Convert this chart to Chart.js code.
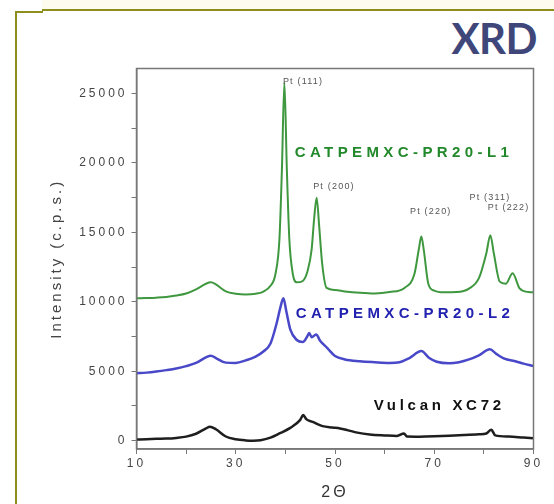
<!DOCTYPE html>
<html><head><meta charset="utf-8">
<script src="https://cdn.jsdelivr.net/npm/chart.js@4.4.1/dist/chart.umd.min.js"></script>
<style>
html,body{margin:0;padding:0;background:#fff;}
#wrap{position:relative;width:554px;height:504px;overflow:hidden;background:#fff;}
#cream{position:absolute;left:42px;top:0;width:512px;height:9px;background:#fdfcef;}
.ol{position:absolute;background:#8e8e1c;}
#title{position:absolute;right:17px;top:14px;font:bold 42px Lato,'Open Sans',sans-serif;color:#3f467a;line-height:48px;letter-spacing:-0.5px;}
canvas{position:absolute;left:0;top:0;}
</style></head>
<body><div id="wrap">
<div id="cream"></div>
<div class="ol" style="left:42px;top:9px;width:512px;height:2px"></div>
<div class="ol" style="left:15px;top:11px;width:28px;height:2px"></div>
<div class="ol" style="left:15px;top:11px;width:2px;height:493px"></div>
<div id="title">XRD</div>
<canvas id="c" width="554" height="504" style="width:554px;height:504px"></canvas>
</div>
<script>
// ---- data (2θ in degrees, intensity in c.p.s.) ----
const l1Theta  = [10,12,14,16,18,20,22,24,25,26,28,30,32,34,35.5,37,38,38.8,39.3,39.8,40.3,40.8,41.5,42.3,43.5,44.5,45.3,45.8,46.3,46.8,47.4,48.3,50,52,55,58,61,64,66,66.9,67.4,67.9,68.8,70,72,74.5,77,79,80.5,81.3,82,83.2,84.4,85.8,87.2,89,90];
const l1Counts = [10250,10270,10300,10350,10450,10600,10900,11300,11400,11250,10750,10580,10530,10580,10720,11150,12000,14500,19500,25800,19500,14500,12000,11400,11500,12250,13800,16000,17500,15500,12800,11000,10850,10750,10650,10600,10700,11000,12000,13800,14700,13700,11300,10800,10680,10700,10950,11700,13500,14800,13500,11450,11300,12050,10960,10700,10680];

const l2Theta  = [10,12,14,16,18,20,22,24,25,26,28,30,32,34,35.5,37,38.2,39,39.6,40.2,41,42.3,43.5,44.4,44.8,45.3,46.2,47,48.5,50,52,55,58,61,63,65,67.4,69,70.5,73,75,77,79,81.2,82.5,84,86.5,88,90];
const l2Counts = [4850,4900,4980,5080,5200,5370,5600,6000,6120,5950,5620,5600,5780,6050,6400,7000,8400,9600,10250,9300,8000,7250,7100,7500,7750,7450,7650,7200,6650,6100,5850,5720,5650,5600,5650,5950,6450,5950,5680,5570,5650,5850,6150,6580,6250,5930,5700,5550,5370];

const xcTheta  = [10,12,14,16,18,20,22,24,24.8,26,28,30,32,33.5,35,37,38.8,41,43,43.6,44.2,45.5,47.5,49.5,51,52.5,54.5,57,60,62.5,63.9,64.5,67,70,73,76,79,80.5,81.5,82.3,85,88,90];
const xcCounts = [80,100,130,150,200,290,500,880,1010,820,300,100,20,0,30,220,520,920,1500,1850,1550,1350,1050,950,880,760,580,450,380,340,520,300,290,310,350,400,460,520,780,380,300,220,170];

const seriesNames  = ['CATPEMXC-PR20-L1','CATPEMXC-PR20-L2','Vulcan XC72'];
const seriesColors = ['#3f983f','#4848c8','#1e1e1e'];
const nameColors   = ['#22892a','#2222b0','#111111'];
const nameTheta    = [63.9, 64.1, 71.0];
const nameCounts   = [20725, 9118, 2533];

const peakLabels      = ['Pt (111)','Pt (200)','Pt (220)','Pt (311)','Pt (222)'];
const peakLabelTheta  = [39.5, 45.6, 65.1, 77.1, 80.8];
const peakLabelCounts = [25830, 18330, 16480, 17510, 16800];

const xTickValues = [10,20,30,40,50,60,70,80,90];
const xTickLabels = [10,30,50,70,90];
const yTickValues = [0,2500,5000,7500,10000,12500,15000,17500,20000,22500,25000];
const yTickLabels = [0,5000,10000,15000,20000,25000];

const FONT = "'Liberation Sans', Arial, sans-serif";
const zip = (xs, ys) => xs.map((x, i) => ({x: x, y: ys[i]}));

const spacingPlugin = {
  id: 'spacing',
  beforeDraw(chart) { chart.ctx.letterSpacing = '3px'; }
};
const framePlugin = {
  id: 'frame',
  afterDatasetsDraw(chart) {
    const {ctx, chartArea: a} = chart;
    ctx.save();
    ctx.strokeStyle = '#777';
    ctx.lineWidth = 1.5;
    ctx.strokeRect(a.left, a.top, a.right - a.left, a.bottom - a.top);
    ctx.restore();
  }
};
const textPlugin = {
  id: 'texts',
  afterDraw(chart) {
    const ctx = chart.ctx, xs = chart.scales.x, ys = chart.scales.y;
    ctx.save();
    ctx.textBaseline = 'middle';
    ctx.textAlign = 'left';
    ctx.font = '9px ' + FONT;
    ctx.fillStyle = '#555';
    ctx.letterSpacing = '1.2px';
    peakLabels.forEach((t, i) => {
      ctx.fillText(t, xs.getPixelForValue(peakLabelTheta[i]), ys.getPixelForValue(peakLabelCounts[i]));
    });
    ctx.textAlign = 'center';
    seriesNames.forEach((t, i) => {
      ctx.font = 'bold 15px ' + FONT;
      ctx.letterSpacing = i === 2 ? '3.7px' : '4.4px';
      ctx.fillStyle = nameColors[i];
      ctx.fillText(t, xs.getPixelForValue(nameTheta[i]), ys.getPixelForValue(nameCounts[i]));
    });
    ctx.restore();
  }
};

new Chart(document.getElementById('c'), {
  type: 'line',
  data: {
    datasets: [
      {label: seriesNames[0], data: zip(l1Theta, l1Counts), borderColor: seriesColors[0], borderWidth: 2},
      {label: seriesNames[1], data: zip(l2Theta, l2Counts), borderColor: seriesColors[1], borderWidth: 2.5},
      {label: seriesNames[2], data: zip(xcTheta, xcCounts), borderColor: seriesColors[2], borderWidth: 2.5}
    ]
  },
  options: {
    responsive: false,
    animation: false,
    devicePixelRatio: 1,
    elements: {
      point: {radius: 0, hoverRadius: 0},
      line: {fill: false, cubicInterpolationMode: 'monotone'}
    },
    layout: {padding: {left: 40, top: 68.5, right: 20.5, bottom: 0}},
    plugins: {legend: {display: false}, tooltip: {enabled: false}},
    scales: {
      x: {
        type: 'linear', position: 'bottom', min: 10, max: 90,
        afterBuildTicks: s => { s.ticks = xTickValues.map(v => ({value: v})); },
        afterFit: s => { s.height = 55; },
        ticks: {
          autoSkip: false, maxRotation: 0, padding: 2, color: '#444',
          font: {family: FONT, size: 12},
          callback: v => xTickLabels.includes(v) ? String(v) : ''
        },
        grid: {drawOnChartArea: false, drawTicks: true, tickLength: 5, tickColor: '#777', tickWidth: 1},
        border: {color: '#777', width: 1.5},
        title: {display: true, text: '2Θ', color: '#333', font: {family: FONT, size: 16}, padding: {top: 0, bottom: 2}}
      },
      y: {
        type: 'linear', position: 'left', min: -600, max: 26800,
        afterBuildTicks: s => { s.ticks = yTickValues.map(v => ({value: v})); },
        afterFit: s => { s.width = 96.5; },
        ticks: {
          autoSkip: false, padding: 4, color: '#444',
          font: {family: FONT, size: 12},
          callback: v => yTickLabels.includes(v) ? String(v) : ''
        },
        grid: {drawOnChartArea: false, drawTicks: true, tickLength: 5, tickColor: '#777', tickWidth: 1},
        border: {color: '#777', width: 1.5},
        title: {display: true, text: 'Intensity (c.p.s.)', color: '#444', font: {family: FONT, size: 15}, padding: {top: 8, bottom: 0}}
      }
    }
  },
  plugins: [spacingPlugin, framePlugin, textPlugin]
});
</script>
</body></html>
